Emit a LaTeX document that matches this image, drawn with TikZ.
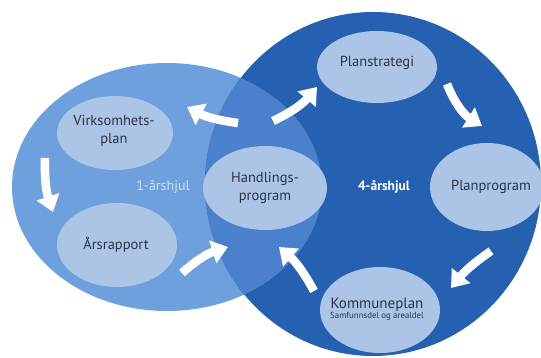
\documentclass[tikz,border=0pt]{standalone}
\usepackage{fontspec}
\setmainfont{PT Sans}
\usetikzlibrary{arrows.meta}
\definecolor{lightc}{RGB}{110,160,222}
\definecolor{darkc}{RGB}{38,96,176}
\definecolor{midc}{RGB}{74,128,204}
\definecolor{ellc}{RGB}{172,197,230}
\definecolor{txtc}{RGB}{45,50,72}
\definecolor{faint}{RGB}{205,222,245}
\begin{document}
\begin{tikzpicture}[x=1pt,y=-1pt,
  label text/.style={text=txtc, align=center, font=\fontsize{14.5}{17.5}\selectfont},
  blockarrow/.style={draw=white, line width=8.5pt, -{Triangle[width=23pt,length=16pt]}}]
\useasboundingbox (0,0) rectangle (541,358);
\fill[white] (0,0) rectangle (541,358);
% circles
\fill[lightc] (167,187) ellipse [x radius=155, y radius=124];
\fill[darkc] (373,184) ellipse [x radius=168, y radius=172];
\begin{scope}
  \clip (373,184) ellipse [x radius=168, y radius=172];
  \fill[midc] (167,187) ellipse [x radius=155, y radius=124];
\end{scope}
% stage ellipses
\fill[ellc] (115,133) ellipse [x radius=58, y radius=37];
\fill[ellc] (117,245) ellipse [x radius=60, y radius=42];
\fill[ellc] (265,188) ellipse [x radius=62, y radius=42];
\fill[ellc] (377,67) ellipse [x radius=60, y radius=36];
\fill[ellc] (487,187) ellipse [x radius=57, y radius=44];
\fill[ellc] (380,310) ellipse [x radius=60, y radius=43];
\node[label text] (virk) at (114,131) {Virksomhets-\\plan};
\node[label text] (aars) at (116,245) {Årsrapport};
\node[label text] (handl) at (265,188) {Handlings-\\program};
\node[label text] (plans) at (377,63) {Planstrategi};
\node[label text] (planp) at (491,187) {Planprogram};
\node[text=txtc, align=center, inner sep=0pt] (komm) at (377,309) {{\fontsize{15}{16}\selectfont Kommuneplan}\\[-2pt]{\fontsize{8.8}{10}\selectfont Samfunnsdel og arealdel}};
\node[text=faint, font=\fontsize{14}{16}\selectfont] (one) at (163,187) {1-årshjul};
\node[text=white, font=\bfseries\fontsize{13.5}{15}\selectfont] (four) at (384,187) {4-årshjul};
% arrow end points
\coordinate (a1s) at (238,123); \coordinate (a1e) at (187,107);
\coordinate (a2s) at (45,158);  \coordinate (a2e) at (53,212);
\coordinate (a3s) at (182,273); \coordinate (a3e) at (228,247);
\coordinate (a4s) at (273,121); \coordinate (a4e) at (317,87);
\coordinate (a5s) at (447,84);  \coordinate (a5e) at (482,126);
\coordinate (a6s) at (491,251); \coordinate (a6e) at (451,288);
\coordinate (a7s) at (314,291); \coordinate (a7e) at (279,247);
\draw[blockarrow] (a1s) to[bend left=10] (a1e);
\draw[blockarrow] (a2s) to[bend right=10] (a2e);
\draw[blockarrow] (a3s) to[bend left=12] (a3e);
\draw[blockarrow] (a4s) to[bend right=12] (a4e);
\draw[blockarrow] (a5s) to[bend right=18] (a5e);
\draw[blockarrow] (a6s) to[bend right=8] (a6e);
\draw[blockarrow] (a7s) to[bend right=10] (a7e);
\end{tikzpicture}
\end{document}
